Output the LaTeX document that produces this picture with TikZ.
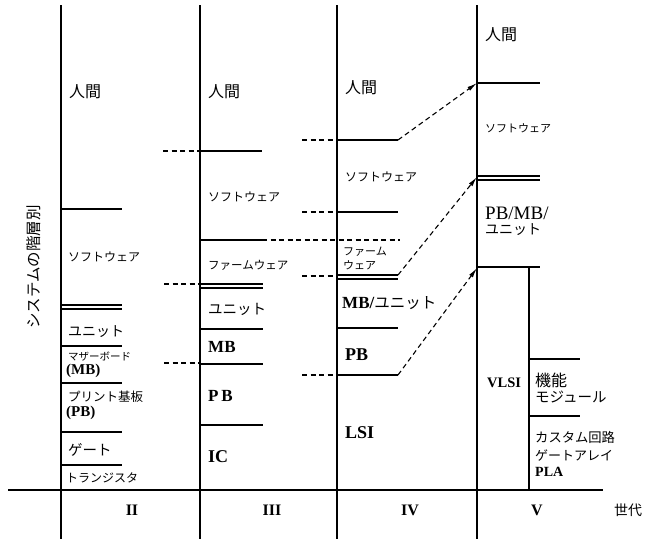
\documentclass[tikz,border=0pt]{standalone}
\usepackage{fontspec}
\setmainfont{Liberation Serif}
\newfontfamily\jp{Noto Sans CJK JP}
\usetikzlibrary{arrows.meta}
\newcommand\myfs[1]{\fontsize{#1}{#1}\selectfont}
\tikzset{
  lay/.style={line width=1.2pt},
  axisline/.style={line width=1.5pt},
  dsh/.style={line width=1.1pt, dash pattern=on 5pt off 3.5pt},
  arr/.style={dsh, -{Latex[length=10pt,width=4.5pt]}},
  lbl/.style={inner sep=0pt, anchor=west},
  jl/.style={lbl, font=\jp},
  bl/.style={lbl, font=\bfseries},
  gl/.style={inner sep=0pt, font=\bfseries},
}
\begin{document}
\begin{tikzpicture}[x=1pt,y=-1pt]
\useasboundingbox (0,0) rectangle (651,539);
% generation columns
\foreach \x in {61,200,337,477} \draw[lay] (\x,5) -- (\x,539);
\draw[axisline] (8,490) -- (603,490);
\draw[lay] (529,267) -- (529,490);
% column II
\foreach \y in {209,305,309,346,383,432,465} \draw[lay] (61,\y) -- (122,\y);
% column III
\draw[dsh] (163,151) -- (200,151);
\draw[lay] (200,151) -- (262,151);
\draw[lay] (200,240) -- (262,240);
\draw[dsh] (262,240) -- (400,240);
\draw[dsh] (164,284) -- (200,284);
\draw[lay] (200,284) -- (263,284);
\draw[lay] (200,288) -- (263,288);
\draw[lay] (200,329) -- (263,329);
\draw[dsh] (164,363) -- (200,363);
\draw[lay] (200,364) -- (263,364);
\draw[lay] (200,425) -- (263,425);
% column IV
\draw[dsh] (302,140) -- (337,140);
\draw[lay] (337,140) -- (398,140);
\draw[dsh] (302,212) -- (337,212);
\draw[lay] (337,212) -- (398,212);
\draw[dsh] (302,276) -- (337,276);
\draw[lay] (337,275) -- (398,275);
\draw[lay] (337,279) -- (398,279);
\draw[lay] (337,328) -- (398,328);
\draw[dsh] (302,375) -- (337,375);
\draw[lay] (337,375) -- (398,375);
% column V
\draw[lay] (477,83) -- (540,83);
\draw[lay] (477,176) -- (540,176);
\draw[lay] (477,180) -- (540,180);
\draw[lay] (477,267) -- (540,267);
\draw[lay] (529,359) -- (580,359);
\draw[lay] (529,416) -- (580,416);
% arrows
\coordinate (a1s) at (398,140); \coordinate (a1e) at (477,83);
\coordinate (a2s) at (398,275); \coordinate (a2e) at (477,177);
\coordinate (a3s) at (398,375); \coordinate (a3e) at (477,268);
\draw[arr] (a1s) -- (a1e);
\draw[arr] (a2s) -- (a2e);
\draw[arr] (a3s) -- (a3e);
% labels column II
\node[jl] (t21) at (69,92) {\myfs{16}人間};
\node[jl] (t22) at (68,257) {\myfs{12}ソフトウェア};
\node[jl] (t23) at (68,332) {\myfs{14}ユニット};
\node[jl] (t24) at (68,357) {\myfs{10.5}マザーボード};
\node[bl] (t25) at (66,371) {\myfs{15}(MB)};
\node[jl] (t26) at (68,397) {\myfs{12.5}プリント基板};
\node[bl] (t27) at (66,413) {\myfs{15}(PB)};
\node[jl] (t28) at (68,450) {\myfs{14.5}ゲート};
\node[jl] (t29) at (66,478) {\myfs{12}トランジスタ};
% labels column III
\node[jl] (t31) at (208,92) {\myfs{16}人間};
\node[jl] (t32) at (208,197) {\myfs{12}ソフトウェア};
\node[jl] (t33) at (208,265) {\myfs{11.5}ファームウェア};
\node[jl] (t34) at (208,309) {\myfs{14.5}ユニット};
\node[bl] (t35) at (208,347) {\myfs{17}MB};
\node[bl] (t36) at (208,396) {\myfs{17}P\,B};
\node[bl] (t37) at (208,457) {\myfs{18}IC};
% labels column IV
\node[jl] (t41) at (345,88) {\myfs{16}人間};
\node[jl] (t42) at (345,177) {\myfs{12}ソフトウェア};
\node[jl] (t43) at (343,252) {\myfs{11}ファーム};
\node[jl] (t44) at (343,265) {\myfs{11}ウェア};
\node[lbl] (t45) at (342,303) {\bfseries\myfs{17}MB/\jp\mdseries\myfs{15.5}ユニット};
\node[bl] (t46) at (345,355) {\myfs{18}PB};
\node[bl] (t47) at (345,433) {\myfs{18}LSI};
% labels column V
\node[jl] (t51) at (485,35) {\myfs{16}人間};
\node[jl] (t52) at (485,128) {\myfs{11}ソフトウェア};
\node[lbl] (t53) at (485,213) {\myfs{19}PB/MB/};
\node[jl] (t54) at (485,230) {\myfs{14}ユニット};
\node[bl] (t55) at (487,383) {\myfs{14.5}VLSI};
\node[jl] (t56) at (535,380) {\myfs{16}機能};
\node[jl] (t57) at (535,397) {\myfs{14.5}モジュール};
\node[jl] (t58) at (535,437) {\myfs{13.3}カスタム回路};
\node[jl] (t59) at (535,455) {\myfs{13}ゲートアレイ};
\node[bl] (t60) at (535,472) {\myfs{14}PLA};
% generation axis labels
\node[gl] (g2) at (132,510) {\myfs{16}II};
\node[gl] (g3) at (272,510) {\myfs{16}III};
\node[gl] (g4) at (410,510) {\myfs{16}IV};
\node[gl] (g5) at (537,510) {\myfs{16}V};
\node[inner sep=0pt, font=\jp] (gen) at (628,510) {\myfs{14}世代};
\node[inner sep=0pt, font=\jp, rotate=90] (ylab) at (34,267) {\myfs{15.5}システムの階層別};
\end{tikzpicture}
\end{document}
